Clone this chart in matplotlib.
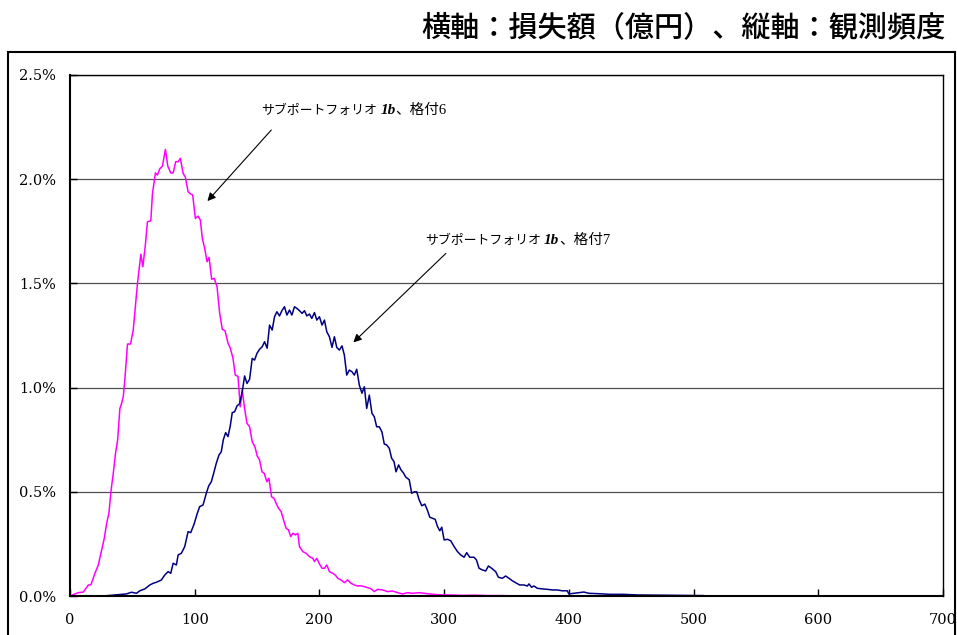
import matplotlib
matplotlib.use('Agg')
import matplotlib.pyplot as plt
from matplotlib.patches import Rectangle
from matplotlib.ticker import FuncFormatter

loss_r6 = [0, 1.9, 6.7, 10.7, 14.7, 16.8, 20, 22.7, 24.8, 27.5, 29.4, 31.2, 32.8, 34.7, 36.5,
           38.2, 40, 41.4, 42.7, 44, 46.1, 48.5, 50.7, 54.1, 56.8, 58.4, 60.3, 62.1, 64.8,
           66.1, 68.5, 70.1, 72, 74.1, 76.5, 78.4, 80.8, 82.7, 84.8, 86.7, 88.5, 90.7, 92.5,
           94.7, 96.5, 98.4, 100.5, 102.7, 104.5, 106.1, 108, 109.9, 111.5, 113.6, 115.7,
           117.9, 120, 122.1, 124.3, 126.7, 128.5, 130.7, 132.5, 134.7, 136.5, 138.1, 140,
           141.9, 144, 146.1, 148.3, 150.1, 152, 153.9, 155.7, 157.9, 159.5, 161.6, 163.5,
           165.3, 167.2, 169.3, 171.2, 173.3, 175.2, 177, 178.7, 180.8, 182.7, 184, 186.7,
           189.3, 192, 194.7, 196, 197.9, 200, 202.1, 204, 205.9, 208, 210.7, 212.8, 214.7,
           217.3, 220, 222.7, 225.3, 228, 230.7, 233.3, 236, 238.7, 241.3, 244, 246.7, 250.7,
           254.7, 258.7, 262.7, 266.7, 270.7, 274.7, 280, 284, 288, 295, 305, 315, 325, 335,
           345, 355, 362]
freq_r6 = [0.0, 0.005, 0.016, 0.019, 0.053, 0.054, 0.109, 0.149, 0.205, 0.277, 0.349, 0.397,
           0.50, 0.589, 0.685, 0.749, 0.90, 0.925, 0.956, 1.04, 1.209, 1.209, 1.276, 1.50,
           1.64, 1.58, 1.676, 1.796, 1.80, 1.93, 2.03, 2.02, 2.05, 2.063, 2.143, 2.063, 2.03,
           2.03, 2.084, 2.084, 2.10, 2.028, 2.01, 1.94, 1.93, 1.924, 1.812, 1.823, 1.804,
           1.716, 1.668, 1.604, 1.625, 1.52, 1.524, 1.484, 1.357, 1.28, 1.273, 1.213, 1.19,
           1.14, 1.06, 1.054, 0.908, 0.988, 0.90, 0.829, 0.812, 0.74, 0.716, 0.672, 0.653,
           0.596, 0.589, 0.548, 0.565, 0.476, 0.469, 0.445, 0.421, 0.405, 0.365, 0.325,
           0.317, 0.285, 0.301, 0.293, 0.301, 0.237, 0.213, 0.205, 0.189, 0.181, 0.165,
           0.181, 0.154, 0.133, 0.133, 0.149, 0.117, 0.109, 0.10, 0.085, 0.077, 0.064, 0.077,
           0.061, 0.053, 0.048, 0.049, 0.045, 0.04, 0.035, 0.021, 0.032, 0.029, 0.021, 0.024,
           0.016, 0.01, 0.016, 0.013, 0.016, 0.013, 0.010, 0.006, 0.005, 0.003, 0.004, 0.002,
           0.002, 0.001, 0.001]

loss_r7 = [26.7, 36, 45.3, 49.3, 53.3, 56, 60, 64, 66.7, 69.3, 73.3, 76, 78.7, 80.8, 82.7,
           85.3, 86.7, 89.3, 92, 94.7, 96.8, 99.5, 102.1, 104, 106.7, 109.3, 111.2, 113.3,
           115.2, 117.3, 119.5, 121.3, 122.9, 124.8, 126.7, 128.5, 130.1, 132, 133.9, 136,
           138.1, 140, 141.9, 144, 146.1, 148, 149.9, 152, 154.1, 156, 158.1, 160, 162.1,
           164, 165.9, 168, 169.9, 172, 173.9, 176, 177.9, 180, 181.9, 184, 186.1, 188, 189.9,
           192, 193.9, 196, 197.9, 200, 202.1, 204, 205.9, 208, 210.1, 212, 213.9, 216, 218.1,
           220, 221.9, 224, 226.1, 228, 229.9, 232, 234.1, 236, 237.9, 240, 242.1, 244, 245.9,
           248, 250.1, 252, 253.9, 256, 257.9, 259.8, 261.4, 263.5, 265.4, 267.2, 269.3, 272,
           274, 276, 278, 280, 282.1, 284.5, 286.5, 288.5, 290.7, 292.8, 294.7, 296.5, 298.1,
           300, 302.7, 305.3, 308, 310.7, 313.3, 316, 318.1, 320.5, 324, 325.9, 328, 330.7,
           333.3, 335.5, 338.1, 341.3, 343.5, 346.7, 349.3, 352, 354.7, 357.3, 360.5, 364,
           366.7, 368, 370.1, 372, 374.7, 378.7, 382.7, 386.7, 390.7, 394.7, 398.7, 400, 404,
           408, 412, 416, 424, 433, 444, 455, 471, 487, 500, 508]
freq_r7 = [0.0, 0.005, 0.01, 0.018, 0.013, 0.025, 0.034, 0.053, 0.061, 0.066, 0.077, 0.101,
           0.117, 0.109, 0.157, 0.149, 0.197, 0.205, 0.237, 0.309, 0.304, 0.345, 0.397, 0.429,
           0.437, 0.493, 0.528, 0.548, 0.589, 0.637, 0.677, 0.692, 0.749, 0.784, 0.765, 0.816,
           0.88, 0.884, 0.912, 0.923, 0.98, 1.056, 1.02, 1.04, 1.14, 1.132, 1.164, 1.184,
           1.196, 1.22, 1.189, 1.30, 1.276, 1.34, 1.364, 1.344, 1.369, 1.388, 1.348, 1.372,
           1.348, 1.388, 1.38, 1.369, 1.356, 1.369, 1.344, 1.353, 1.332, 1.36, 1.324, 1.34,
           1.30, 1.324, 1.268, 1.244, 1.193, 1.244, 1.193, 1.18, 1.20, 1.156, 1.06, 1.084,
           1.076, 1.06, 1.088, 1.012, 0.973, 1.004, 0.90, 0.964, 0.877, 0.86, 0.812, 0.812,
           0.788, 0.729, 0.725, 0.709, 0.661, 0.645, 0.596, 0.629, 0.605, 0.592, 0.57, 0.558,
           0.493, 0.50, 0.50, 0.461, 0.433, 0.441, 0.413, 0.378, 0.373, 0.368, 0.333, 0.313,
           0.33, 0.269, 0.272, 0.265, 0.237, 0.213, 0.197, 0.186, 0.208, 0.186, 0.186, 0.173,
           0.133, 0.125, 0.12, 0.144, 0.133, 0.117, 0.09, 0.085, 0.096, 0.085, 0.073, 0.064,
           0.053, 0.053, 0.048, 0.058, 0.042, 0.048, 0.037, 0.034, 0.032, 0.029, 0.029, 0.025,
           0.025, 0.01, 0.013, 0.016, 0.019, 0.013, 0.011, 0.008, 0.008, 0.005, 0.004, 0.003,
           0.002, 0.002]

x_ticks = [0, 100, 200, 300, 400, 500, 600, 700]
y_ticks = [0.0, 0.5, 1.0, 1.5, 2.0, 2.5]
title_text = '横軸：損失額（億円）、縦軸：観測頻度'
label_head = 'サブポートフォリオ'
label_mid = '1b'
label_r6 = '、格付6'
label_r7 = '、格付7'

jp = 'Noto Sans CJK JP'
serif = 'DejaVu Serif'

fig = plt.figure(figsize=(9.57, 6.35), dpi=100)
ax = fig.add_axes([70 / 957, 39 / 635, 873 / 957, 521 / 635])

# outer frame around the whole chart (runs off the bottom edge)
fig.patches.append(Rectangle((8 / 957, -0.2), 947 / 957, 0.2 + 583 / 635,
                             transform=fig.transFigure, fill=False,
                             edgecolor='black', linewidth=1.5, clip_on=False))

fig.text(946 / 957, 1 - 28 / 635, title_text, ha='right', va='center',
         fontsize=21, fontweight='medium', family=jp)

ax.plot(loss_r6, freq_r6, color='#ff00ff', linewidth=1.1)
ax.plot(loss_r7, freq_r7, color='#000080', linewidth=1.1)

ax.set_xlim(0, 700)
ax.set_ylim(0, 2.5)
ax.set_xticks(x_ticks)
ax.set_yticks(y_ticks)
ax.yaxis.set_major_formatter(FuncFormatter(lambda v, p: '%.1f%%' % v))
ax.grid(axis='y', color='#505050', linewidth=0.9)
ax.set_axisbelow(True)
ax.tick_params(direction='in', length=5, width=1, colors='black')
ax.tick_params(axis='x', pad=12)
ax.tick_params(axis='y', pad=10)
for lbl in ax.get_xticklabels() + ax.get_yticklabels():
    lbl.set_family(serif)
    lbl.set_fontsize(10.5)
for side in ['left', 'bottom']:
    ax.spines[side].set_linewidth(1.5)
for side in ['top', 'right']:
    ax.spines[side].set_linewidth(1.0)


def series_label(x, y, tail):
    # katakana part, then bold italic "1b", then the rating
    t1 = ax.text(x, y, label_head, fontsize=9.3, family=jp, va='center')
    t2 = ax.annotate(label_mid, xy=(1, 0), xycoords=t1, xytext=(2, 0),
                     textcoords='offset points', va='bottom', fontsize=11,
                     family='Liberation Serif', fontweight='bold', fontstyle='italic')
    ax.annotate(tail, xy=(1, 0), xycoords=t2, va='bottom', fontsize=10.5,
                family=['Liberation Serif', jp])


series_label(153.6, 2.33, label_r6)
series_label(284.8, 1.708, label_r7)

arrow = dict(arrowstyle='-|>', color='black', linewidth=0.8,
             mutation_scale=12, shrinkA=0, shrinkB=0)
ax.annotate('', xy=(110.2, 1.895), xytext=(161.4, 2.236), arrowprops=arrow)
ax.annotate('', xy=(227.2, 1.217), xytext=(301.4, 1.644), arrowprops=arrow)

fig.savefig('out.png', dpi=100)
